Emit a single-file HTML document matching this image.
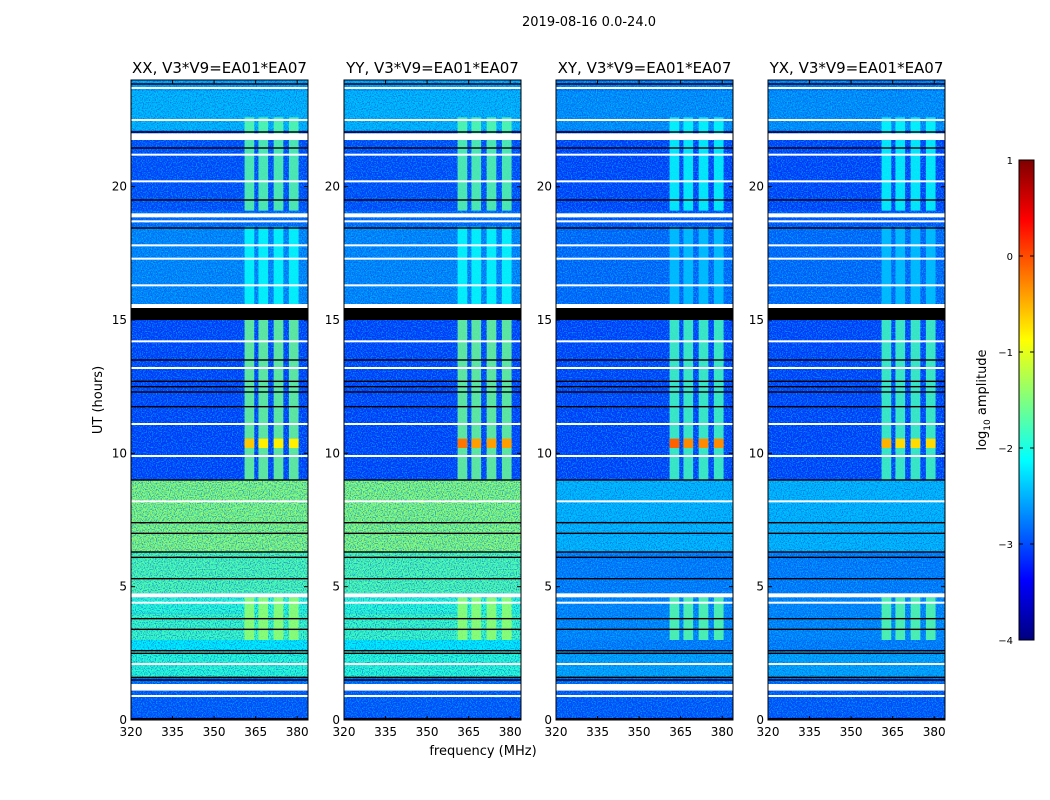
<!DOCTYPE html>
<html><head><meta charset="utf-8">
<style>
html,body{margin:0;padding:0;background:#fff;}
svg{display:block;font-family:"DejaVu Sans","Liberation Sans",sans-serif;}
</style></head>
<body>
<svg id="fig" width="1050" height="800" viewBox="0 0 1050 800" xmlns="http://www.w3.org/2000/svg">
<defs>
<filter id="noise" x="0" y="0" width="100%" height="100%">
<feTurbulence type="fractalNoise" baseFrequency="0.8" numOctaves="1" seed="3"/>
<feColorMatrix type="matrix" values="0 0 0 0 0  0 0 0 0 0.75  0 0 0 0 1  0 0 0 5 -2.3"/>
</filter>
<filter id="noise2" x="0" y="0" width="100%" height="100%">
<feTurbulence type="fractalNoise" baseFrequency="0.85" numOctaves="1" seed="11"/>
<feColorMatrix type="matrix" values="0 0 0 0 0  0 0 0 0 0.05  0 0 0 0 0.6  0 0 0 5 -2.4"/>
</filter>
<linearGradient id="jet" x1="0" y1="1" x2="0" y2="0">
<stop offset="0" stop-color="#00007f"/><stop offset="0.125" stop-color="#0000ff"/>
<stop offset="0.375" stop-color="#00ffff"/><stop offset="0.625" stop-color="#ffff00"/>
<stop offset="0.875" stop-color="#ff0000"/><stop offset="1" stop-color="#7f0000"/>
</linearGradient>
</defs>
<text x="589" y="26" font-size="13" text-anchor="middle">2019-08-16 0.0-24.0</text>
<g id="panels"></g>
<text transform="translate(102,400) rotate(-90)" font-size="13" text-anchor="middle">UT (hours)</text>
<text x="483" y="755" font-size="13" text-anchor="middle">frequency (MHz)</text>
<g>
<rect x="1019" y="160" width="15" height="480" fill="url(#jet)" stroke="#000" stroke-width="1"/>
<g id="cbticks"></g>
<text transform="translate(986,400) rotate(-90)" font-size="13" text-anchor="middle">log<tspan font-size="9" dy="4">10</tspan><tspan dy="-4"> amplitude</tspan></text>
</g>
</svg>
<script>
const NS='http://www.w3.org/2000/svg';
const panelNames=['XX','YY','XY','YX'];
const panelX=[131,344,556,768];
const freqTicks=[320,335,350,365,380];
const timeTicks=[0,5,10,15,20];
const cbTicks=[1,0,-1,-2,-3,-4];
// band data: start hour, end hour, level (log10 amp) per polarisation
const bandStart=[0,0.1,1.35,1.6,2.6,3.0,4.0,4.75,6.3,9.0,11.5,15.6,18.5,19.1,22.1,23.6];
const bandEnd  =[0.1,1.1,1.6,2.6,3.0,4.0,4.6,6.3,9.0,11.5,15.0,18.5,19.1,21.8,23.6,24];
const levelXX=[-3.1,-3.0,-2.9,-1.9,-2.2,-1.8,-1.9,-1.7,-1.4,-3.1,-3.1,-2.75,-2.9,-3.05,-2.5,-2.6];
const levelYY=[-3.1,-3.0,-2.9,-1.9,-2.2,-1.8,-1.9,-1.7,-1.4,-3.1,-3.1,-2.75,-2.9,-3.05,-2.5,-2.6];
const levelXY=[-3.1,-3.0,-2.9,-2.6,-2.8,-2.75,-2.75,-2.8,-2.5,-3.1,-3.1,-2.9,-3.0,-3.1,-2.7,-2.8];
const levelYX=[-3.1,-3.0,-2.9,-2.6,-2.8,-2.75,-2.75,-2.8,-2.5,-3.1,-3.1,-2.9,-3.0,-3.1,-2.7,-2.8];
const levels=[levelXX,levelYY,levelXY,levelYX];
// RFI channels
const rfiF0=[361,366,371.5,377];
const rfiF1=[364.5,369.5,375,380.5];
const rfiT0=[3.0,9.0,15.6,19.1];
const rfiT1=[4.6,15.0,18.5,22.6];
const rfiLevel=[-1.4,-1.6,-2.1,-1.7];
const rfiLevelXY=[-1.7,-1.8,-2.4,-2.1];
const burstT0=10.2, burstT1=10.55;
const burstLevel=[-0.8,-0.4,-0.3,-0.7];
const blackBands=[[15.0,15.6],[1.1,1.12]];
const whiteBands=[[1.1,1.35],[21.75,22.0],[18.85,19.0],[15.45,15.6],[4.6,4.75]];
const whiteLines=[23.7,22.5,21.2,20.2,18.7,17.8,17.3,16.3,14.2,13.2,11.1,9.9,8.2,4.4,2.1,0.9];
const blackLines=[23.85,22.05,21.45,19.5,18.45,13.5,12.7,12.5,12.3,11.75,9.0,7.4,7.0,6.3,6.1,5.3,3.8,3.4,2.6,2.5,1.6,1.5,0.05];

const W=177,H=640,Y0=80;
const fx=(f,px)=>px+(f-320)*2.77;
const ty=t=>720-t*(H/24);
function jet(v){let t=Math.max(0,Math.min(1,(v+4)/5));
 const c=x=>Math.round(255*Math.max(0,Math.min(1,x)));
 return `rgb(${c(1.5-Math.abs(4*t-3))},${c(1.5-Math.abs(4*t-2))},${c(1.5-Math.abs(4*t-1))})`;}
function mk(tag,attrs,parent){const e=document.createElementNS(NS,tag);for(const k in attrs)e.setAttribute(k,attrs[k]);parent.appendChild(e);return e;}
const root=document.getElementById('panels');
panelNames.forEach((nm,p)=>{
 const px=panelX[p];
 const g=mk('g',{},root);
 
 
 const cp=mk('clipPath',{id:'cp'+p},g);mk('rect',{x:px,y:Y0,width:W,height:H},cp);
 const hm=mk('g',{'clip-path':'url(#cp'+p+')'},g);
 
 
 mk('rect',{x:px,y:Y0,width:W,height:H,fill:jet(-3.1)},hm);
 const lv=levels[p];
 bandStart.forEach((s,i)=>{
  const r=mk('rect',{x:px,y:ty(bandEnd[i]),width:W,height:ty(bandStart[i])-ty(bandEnd[i]),fill:jet(lv[i])},hm);
  
  
 });
 mk('rect',{x:px,y:Y0,width:W,height:H,filter:'url(#noise)',opacity:0.5},hm);
 mk('rect',{x:px,y:Y0,width:W,height:H,filter:'url(#noise2)',opacity:0.5},hm);
 const rl=(p>=2)?rfiLevelXY:rfiLevel;
 rfiF0.forEach((f0,i)=>{rfiT0.forEach((t0,j)=>{
  const r=mk('rect',{x:fx(f0,px),y:ty(rfiT1[j]),width:fx(rfiF1[i],px)-fx(f0,px),height:ty(t0)-ty(rfiT1[j]),fill:jet(rl[j]),opacity:0.85},hm);
  
  
  });
  const b=mk('rect',{x:fx(f0,px),y:ty(burstT1),width:fx(rfiF1[i],px)-fx(f0,px),height:ty(burstT0)-ty(burstT1),fill:jet(burstLevel[p]+(i===0?0.2:0))},hm);
  
  
 });
 blackBands.forEach(b=>{const r=mk('rect',{x:px,y:ty(b[1]),width:W,height:ty(b[0])-ty(b[1]),fill:'#000'},hm);
  });
 whiteBands.forEach(b=>{const r=mk('rect',{x:px,y:ty(b[1]),width:W,height:ty(b[0])-ty(b[1]),fill:'#fff'},hm);
  });
 whiteLines.forEach(t=>mk('rect',{x:px,y:ty(t)-1,width:W,height:2,fill:'#fff'},hm));
 blackLines.forEach(t=>mk('rect',{x:px,y:ty(t)-0.7,width:W,height:1.4,fill:'#000'},hm));
 mk('rect',{x:px,y:Y0,width:W,height:H,fill:'none',stroke:'#000','stroke-width':1},g);
 const tt=mk('text',{x:px+W/2,y:Y0-7,'font-size':15,'text-anchor':'middle'},g);
 tt.textContent=nm+', V3*V9=EA01*EA07';
 
 
 freqTicks.forEach(f=>{const x=fx(f,px);
  mk('line',{x1:x,x2:x,y1:720,y2:716,stroke:'#000'},g);mk('line',{x1:x,x2:x,y1:80,y2:84,stroke:'#000'},g);
  const l=mk('text',{x:x,y:736,'font-size':12,'text-anchor':'middle'},g);l.textContent=f;
  });
 timeTicks.forEach(t=>{const y=ty(t);
  mk('line',{x1:px,x2:px+4,y1:y,y2:y,stroke:'#000'},g);mk('line',{x1:px+W,x2:px+W-4,y1:y,y2:y,stroke:'#000'},g);
  const l=mk('text',{x:px-4,y:y+4,'font-size':12,'text-anchor':'end'},g);l.textContent=t;
  });
});
const cbg=document.getElementById('cbticks');
cbTicks.forEach(v=>{const y=160+(1-v)*96;
 mk('line',{x1:1019,x2:1023,y1:y,y2:y,stroke:'#000'},cbg);mk('line',{x1:1034,x2:1030,y1:y,y2:y,stroke:'#000'},cbg);
 const l=mk('text',{x:1013,y:y+4,'font-size':10,'text-anchor':'end'},cbg);l.textContent=(v<0?'\u2212'+(-v):v);
 });
</script>
</body></html>
